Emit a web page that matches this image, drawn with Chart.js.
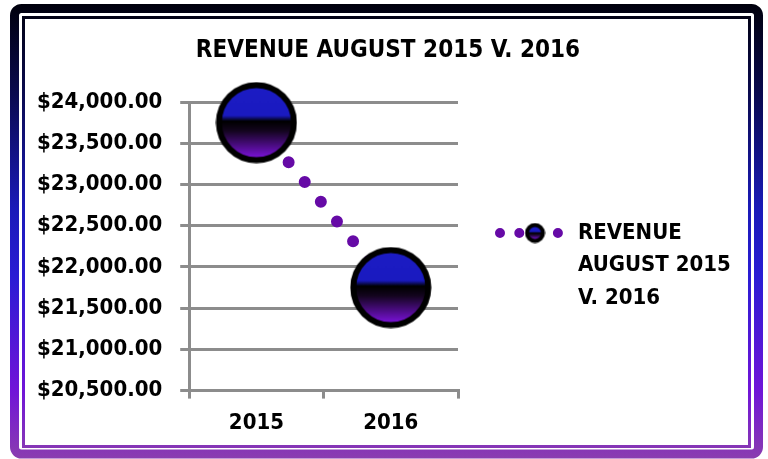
<!DOCTYPE html>
<html>
<head>
<meta charset="utf-8">
<script src="https://cdn.jsdelivr.net/npm/chart.js@4.4.1/dist/chart.umd.min.js"></script>
<style>
  html, body { margin: 0; padding: 0; background: #fff; }
  #wrap { width: 768px; height: 459px; }
</style>
</head>
<body>
<div id="wrap"><canvas id="revenueChart" width="768" height="459"></canvas></div>
<script>
const categories = ["2015", "2016"];
const revenue = [23750, 21750];
const seriesLabel = "REVENUE AUGUST 2015 V. 2016";
const chartTitle = "REVENUE AUGUST 2015 V. 2016";
const yMin = 20500;
const yMax = 24000;
const yStep = 500;

const FONT = "'DejaVu Sans Condensed', 'DejaVu Sans', sans-serif";
const GRID = "#8c8c8c";
const DOT = "#660aa6";

// the glossy round marker, drawn once onto its own canvas
function makeMarker(d, border) {
  const c = document.createElement("canvas");
  c.width = d;
  c.height = d;
  const g = c.getContext("2d");
  const r = d / 2;
  const grad = g.createLinearGradient(0, border, 0, d - border);
  grad.addColorStop(0, "#1c1cc4");
  grad.addColorStop(0.4, "#1a1ac0");
  grad.addColorStop(0.48, "#000000");
  grad.addColorStop(0.62, "#14051f");
  grad.addColorStop(1, "#7a12d8");
  g.beginPath();
  g.arc(r, r, r - border / 2 - 0.5, 0, Math.PI * 2);
  g.fillStyle = grad;
  g.fill();
  g.lineWidth = border;
  g.strokeStyle = "#000";
  g.stroke();
  return c;
}

const bigMarker = makeMarker(82, 6);
const smallMarker = makeMarker(21, 4);

const frameColors = (ctx, top, bottom) => {
  const grad = ctx.createLinearGradient(0, top, 0, bottom);
  grad.addColorStop(0, "#00000c");
  grad.addColorStop(0.2, "#0a0a50");
  grad.addColorStop(0.45, "#1a1ab8");
  grad.addColorStop(0.6, "#2a1cd4");
  grad.addColorStop(0.85, "#7014d8");
  grad.addColorStop(1, "#8a3cb0");
  return grad;
};

const framePlugin = {
  id: "frame",
  beforeDraw(chart) {
    const ctx = chart.ctx;
    ctx.save();
    ctx.fillStyle = "#fff";
    ctx.fillRect(0, 0, chart.width, chart.height);
    ctx.strokeStyle = frameColors(ctx, 4, 458);
    ctx.lineWidth = 9;
    ctx.beginPath();
    ctx.roundRect(14.5, 8.5, 744, 445.5, 7);
    ctx.stroke();
    ctx.lineWidth = 3;
    ctx.beginPath();
    ctx.rect(23.5, 17.5, 726, 429);
    ctx.stroke();

    // title, centred on the whole frame rather than the plot box
    ctx.font = "bold 24px " + FONT;
    ctx.fillStyle = "#000";
    ctx.textAlign = "center";
    ctx.textBaseline = "middle";
    ctx.fillText(chartTitle, 388, 51);
    ctx.restore();
  },
};

const sideLegend = {
  id: "sideLegend",
  afterDraw(chart) {
    const ctx = chart.ctx;
    const area = chart.chartArea;
    const ds = chart.data.datasets[0];
    const x0 = area.right + 42;
    const y0 = area.top + 131;
    ctx.save();
    ctx.strokeStyle = ds.borderColor;
    ctx.lineWidth = 10;
    ctx.lineCap = "round";
    ctx.setLineDash([0, 19.3]);
    ctx.beginPath();
    ctx.moveTo(x0, y0);
    ctx.lineTo(x0 + 58, y0);
    ctx.stroke();
    ctx.setLineDash([]);
    ctx.drawImage(smallMarker, x0 + 35 - smallMarker.width / 2, y0 - smallMarker.height / 2);

    ctx.font = "bold 22px " + FONT;
    ctx.fillStyle = "#000";
    ctx.textBaseline = "middle";
    const words = ds.label.split(" ");
    const lines = [];
    let line = "";
    words.forEach((w) => {
      const test = line ? line + " " + w : w;
      if (line && ctx.measureText(test).width > 160) {
        lines.push(line);
        line = w;
      } else {
        line = test;
      }
    });
    lines.push(line);
    lines.forEach((l, i) => ctx.fillText(l, x0 + 78, y0 + i * 32.5));
    ctx.restore();
  },
};

new Chart(document.getElementById("revenueChart"), {
  type: "line",
  data: {
    labels: categories,
    datasets: [
      {
        label: seriesLabel,
        data: revenue,
        borderColor: DOT,
        borderWidth: 12,
        borderDash: [0, 25.5],
        borderCapStyle: "round",
        fill: false,
        tension: 0,
        clip: false,
        pointStyle: bigMarker,
        pointRadius: 41,
        pointHoverRadius: 41,
      },
    ],
  },
  options: {
    responsive: false,
    animation: false,
    layout: { padding: { top: 102, left: 19, right: 310, bottom: 12 } },
    scales: {
      x: {
        offset: true,
        grid: {
          offset: true,
          drawOnChartArea: false,
          color: GRID,
          lineWidth: 3,
          tickLength: 8,
        },
        border: { display: true, color: GRID, width: 3 },
        ticks: {
          color: "#000",
          padding: 11,
          font: { family: FONT, size: 22, weight: "bold" },
        },
      },
      y: {
        min: yMin,
        max: yMax,
        ticks: {
          stepSize: yStep,
          color: "#000",
          padding: 18,
          font: { family: FONT, size: 22, weight: "bold" },
          callback: (v) =>
            "$" + v.toLocaleString("en-US", { minimumFractionDigits: 2, maximumFractionDigits: 2 }),
        },
        grid: { color: GRID, lineWidth: 3, tickLength: 9 },
        border: { display: true, color: GRID, width: 3 },
      },
    },
    plugins: {
      legend: { display: false },
      tooltip: { enabled: false },
      title: { display: false },
    },
  },
  plugins: [framePlugin, sideLegend],
});
</script>
</body>
</html>
